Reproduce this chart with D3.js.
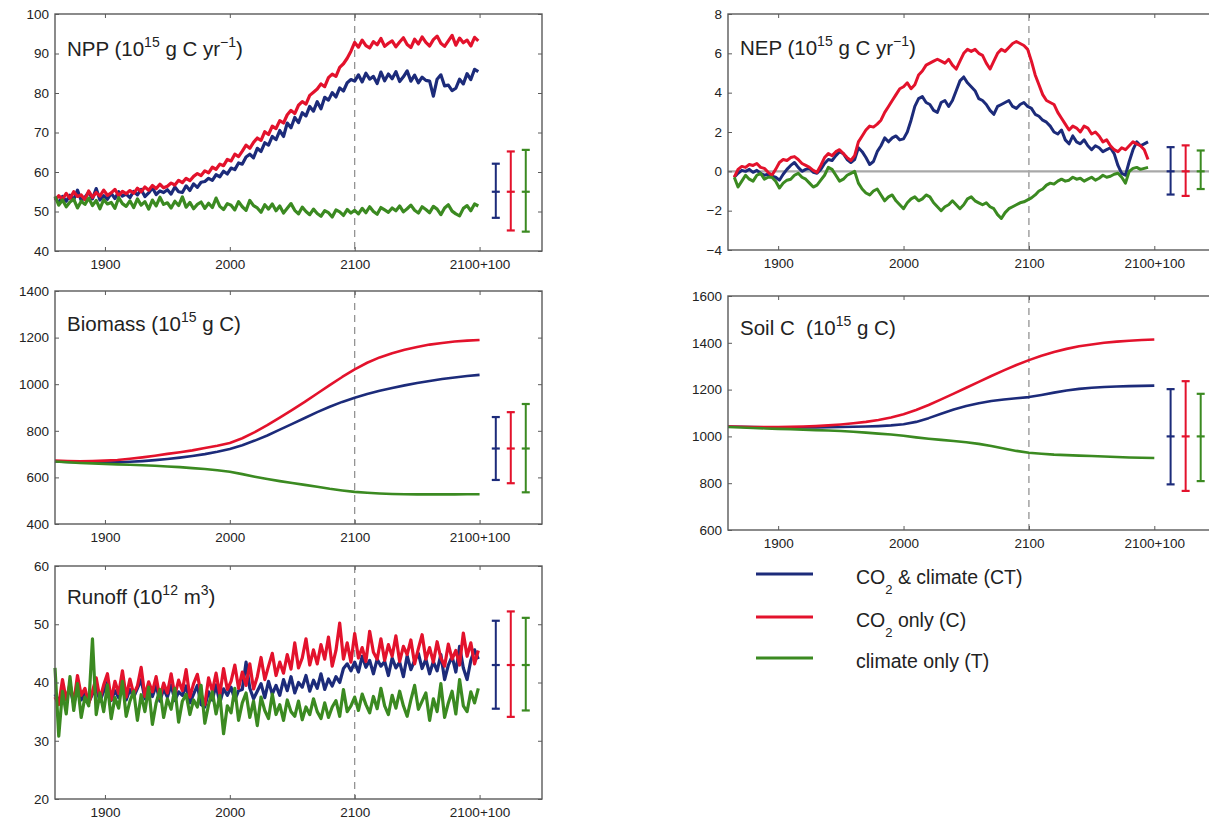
<!DOCTYPE html>
<html>
<head>
<meta charset="utf-8">
<script src="https://cdn.jsdelivr.net/npm/d3@7"></script>
<style>
  body { margin: 0; background: #fff; }
  svg { display: block; font-family: "Liberation Sans", Arial, Helvetica, sans-serif; }
</style>
</head>
<body>
<svg id="chart" width="1209" height="822"></svg>
<script>
// ---- shared categories ----
const seriesKeys = ["CT", "C", "T"];
const seriesColors = ["#1c2b7a", "#e3122c", "#3b8a21"];
const xTickYears = [1900, 2000, 2100, 2200];
const xTickLabels = ["1900", "2000", "2100", "2100+100"];
const errorYears = [2213, 2225, 2237];   // x positions of the variability bars

// ---- NPP (10^15 g C / yr), every 3 years 1860-2199 ----
const nppYears = d3.range(1860, 2200, 3);
const nppCT = [
  53.5, 52.2, 53.8, 52.6, 54.1, 53.0, 55.4, 52.8, 53.6, 54.9,
  53.2, 55.8, 52.9, 54.0, 53.1, 54.6, 53.3, 55.0, 53.9, 54.4,
  53.5, 55.1, 54.2, 55.6, 53.8, 54.7, 56.0, 54.3, 55.2, 54.8,
  55.5, 54.4, 56.2, 55.0, 54.8, 56.5, 55.3, 57.0, 56.1, 57.4,
  57.6, 58.4, 57.9, 59.3, 58.8, 60.2, 59.5, 61.0, 60.6, 62.3,
  62.0, 63.8, 64.5, 63.6, 66.0, 65.2, 67.4, 66.8, 69.0, 68.2,
  70.5, 69.0, 72.4, 71.2, 73.8, 72.5, 75.0, 74.2, 76.6, 75.4,
  77.8, 76.0, 78.9, 78.2, 80.1, 79.0, 81.3, 80.5, 82.6, 83.4,
  83.0, 84.6, 82.8, 85.0, 83.5, 84.2, 82.4, 85.3, 83.1, 84.8,
  83.6, 85.4, 82.9, 84.1, 85.6, 83.0, 84.5, 82.6, 84.0, 83.2,
  83.0, 79.2, 83.5, 84.6, 81.8, 82.0, 80.6, 81.2, 83.5, 82.3,
  84.9, 83.4, 86.0, 85.4
];
const nppC = [
  52.8, 54.0, 53.1, 54.6, 53.3, 55.0, 53.8, 54.2, 53.0, 55.2,
  53.6, 54.8, 53.9, 55.4, 54.1, 54.7, 55.6, 54.0, 55.1, 54.5,
  55.3, 54.6, 55.9, 55.0, 56.2, 55.4, 56.6, 55.8, 56.9, 56.0,
  56.4, 57.2, 56.7, 57.9, 57.3, 58.4, 57.8, 58.9, 59.6, 59.1,
  60.3, 59.8, 61.2, 60.7, 62.0, 61.6, 63.2, 62.8, 64.5, 63.9,
  65.3, 66.8, 66.0, 67.5, 68.6, 68.0, 70.2, 69.5, 71.6, 71.0,
  73.0, 72.4, 74.5, 75.6, 74.8, 76.9, 77.8, 77.2, 79.4, 80.2,
  81.0, 82.3, 81.6, 83.9, 84.8, 84.2, 86.5, 87.4, 88.8, 90.6,
  92.8, 91.6, 93.4, 92.0, 91.4, 93.0, 92.2, 93.8, 91.8, 92.6,
  93.2, 91.7, 92.9, 94.0, 92.3, 91.5, 93.6, 92.4, 94.2, 92.8,
  91.9, 93.5, 94.4, 92.6, 91.8, 93.2, 94.6, 92.1, 93.9, 92.7,
  93.4, 91.9, 94.1, 93.2
];
const nppT = [
  53.8, 51.6, 52.9, 51.2, 52.4, 53.1, 50.9, 52.6, 51.8, 53.4,
  51.5, 52.8, 50.7, 53.0, 51.9, 52.3, 50.8, 53.5, 52.0, 51.3,
  52.7, 51.0, 53.2, 51.6, 52.5, 50.6, 52.9, 51.4, 53.6, 51.8,
  52.2, 50.9, 52.6, 51.5, 53.7, 51.1, 52.3, 50.7, 51.8, 52.4,
  50.8, 52.1, 51.0, 53.4, 51.3, 50.5, 52.0, 51.6, 50.4, 52.5,
  51.2, 50.3, 52.8, 51.5, 50.9, 49.8, 51.7, 50.6, 51.9, 50.2,
  51.4, 49.6, 50.8, 52.0, 50.3, 49.4, 51.1, 50.0, 49.2, 50.6,
  49.5, 48.8, 50.2, 49.7, 48.6, 50.4, 49.9, 49.0, 50.5, 49.6,
  50.3, 49.4, 50.8, 49.7, 51.2, 50.0, 49.3, 51.0, 50.4, 49.8,
  50.9, 50.2, 51.4, 49.9, 50.7, 51.6, 50.3, 49.6, 51.2, 50.5,
  49.7, 51.3, 50.6, 49.2, 50.9, 51.7, 50.1, 49.4, 48.9, 50.8,
  51.5, 50.2, 51.9, 51.4
];
const nppErrLow = [48.4, 45.2, 44.9];
const nppErrHigh = [62.1, 65.2, 65.6];
const nppErrMid = 55;

// ---- NEP (10^15 g C / yr), every 3 years 1865-2195 ----
const nepYears = d3.range(1865, 2196, 3);
const nepCT = [
  -0.3, -0.1, 0.05, 0.0, 0.1, -0.05, 0.05, -0.1, -0.2, -0.15,
  -0.25, -0.3, -0.45, -0.15, 0.1, 0.3, 0.45, 0.2, 0.0, 0.1,
  0.15, -0.05, -0.1, 0.1, 0.4, 0.6, 0.55, 0.8, 1.0, 0.9,
  0.6, 0.45, 0.6, 1.2, 1.0, 0.7, 0.35, 0.5, 1.0, 1.3,
  1.7, 1.5, 1.7, 1.8, 1.6, 1.65, 2.0, 2.6, 3.3, 3.7,
  3.8, 3.5, 3.4, 3.1, 3.0, 3.5, 3.6, 3.3, 3.6, 4.1,
  4.6, 4.8, 4.5, 4.3, 4.1, 3.7, 3.6, 3.4, 3.1, 2.9,
  3.3, 3.4, 3.5, 3.6, 3.3, 3.2, 3.4, 3.5, 3.3, 3.2,
  2.9, 2.8, 2.6, 2.5, 2.3, 2.0, 1.9, 2.1, 1.6, 1.4,
  1.8, 1.5, 1.4, 1.6, 1.3, 1.1, 1.3, 1.2, 1.0, 1.1,
  1.2, 0.9, 0.3, -0.1, -0.2, 0.5, 1.1, 1.5, 1.3, 1.4, 1.5
];
const nepC = [
  -0.3, 0.1, 0.25, 0.2, 0.35, 0.3, 0.4, 0.2, 0.15, -0.05,
  -0.2, 0.1, 0.45, 0.6, 0.55, 0.7, 0.75, 0.6, 0.4, 0.3,
  0.2, 0.05, -0.05, 0.3, 0.7, 0.9, 0.8, 1.0, 1.1, 0.9,
  0.7, 0.55, 0.8, 1.5, 1.8, 2.1, 2.3, 2.25, 2.4, 2.6,
  3.0, 3.3, 3.6, 3.9, 4.2, 4.3, 4.5, 4.2, 4.4, 4.9,
  5.1, 5.4, 5.5, 5.6, 5.7, 5.6, 5.5, 5.7, 5.4, 5.2,
  5.6, 6.0, 6.2, 6.1, 6.2, 6.0, 5.9, 5.5, 5.2, 5.6,
  6.0, 6.2, 6.1, 6.3, 6.5, 6.6, 6.5, 6.4, 6.2, 5.6,
  4.9, 4.4, 3.9, 3.6, 3.5, 3.4, 3.0, 2.7, 2.4, 2.1,
  2.3, 2.2, 2.0, 2.3, 2.2, 1.9, 2.0, 1.8, 1.5, 1.6,
  1.3, 1.1, 1.0, 1.2, 1.1, 1.3, 1.5, 1.4, 1.3, 1.1, 0.6
];
const nepT = [
  -0.3, -0.8, -0.5, -0.2, -0.4, -0.5, -0.2, -0.1, -0.4, -0.3,
  -0.3, -0.5, -0.85, -0.6, -0.45, -0.4, -0.2, -0.1, -0.3, -0.4,
  -0.6, -0.8, -0.7, -0.45, -0.2, 0.2, 0.1, -0.2, -0.5, -0.4,
  -0.2, -0.1, 0.0, -0.6, -0.9, -1.1, -1.2, -1.0, -0.9, -1.2,
  -1.5, -1.3, -1.2, -1.5, -1.7, -1.9, -1.6, -1.4, -1.3, -1.5,
  -1.4, -1.2, -1.3, -1.6, -1.8, -2.0, -1.8, -1.7, -1.5, -1.7,
  -1.9, -1.7, -1.4, -1.3, -1.5, -1.6, -1.7, -1.6, -1.8, -1.9,
  -2.2, -2.4, -2.1, -1.9, -1.8, -1.7, -1.6, -1.55, -1.45, -1.35,
  -1.2, -1.0, -0.9, -0.7, -0.6, -0.65, -0.5, -0.4, -0.5, -0.45,
  -0.3, -0.4, -0.35, -0.5, -0.4, -0.3, -0.45, -0.35, -0.2, -0.3,
  -0.25, -0.15, -0.1, -0.3, -0.6, 0.0, 0.15, 0.2, 0.1, 0.15, 0.2
];
const nepErrLow = [-1.18, -1.25, -0.9];
const nepErrHigh = [1.23, 1.32, 1.06];
const nepErrMid = 0;

// ---- Biomass (10^15 g C), every 10 years 1860-2200 ----
const poolYears = d3.range(1860, 2201, 10);
const biomassCT = [
  668, 666, 665, 664, 664, 665, 667, 670, 674, 679,
  685, 692, 700, 710, 722, 738, 758, 780, 805, 830,
  855, 880, 903, 924, 942, 958, 972, 984, 995, 1005,
  1014, 1022, 1029, 1035, 1040
];
const biomassC = [
  672, 670, 669, 670, 672, 675, 680, 686, 693, 701,
  708, 716, 726, 736, 748, 768, 794, 824, 857, 890,
  924, 960, 996, 1031, 1064, 1092, 1115, 1133, 1148, 1160,
  1170, 1177, 1183, 1187, 1190
];
const biomassT = [
  668, 665, 662, 660, 658, 656, 654, 652, 650, 647,
  644, 640, 636, 631, 624, 614, 603, 593, 584, 576,
  568, 560, 551, 544, 538, 534, 531, 529, 528, 527,
  527, 527, 527, 528, 528
];
const biomassErrLow = [589, 575, 536];
const biomassErrHigh = [859, 880, 915];
const biomassErrMid = 724;

// ---- Soil C (10^15 g C), every 10 years 1860-2200 ----
const soilCT = [
  1042, 1041, 1040, 1039, 1038, 1038, 1038, 1038, 1039, 1040,
  1041, 1042, 1044, 1047, 1052, 1062, 1078, 1097, 1115, 1130,
  1142, 1151, 1158, 1163, 1168, 1177, 1187, 1196, 1203, 1208,
  1211, 1213, 1215, 1216, 1217
];
const soilC = [
  1042, 1041, 1040, 1040, 1040, 1041, 1042, 1044, 1047, 1051,
  1056, 1062, 1070, 1081, 1095, 1113, 1134, 1158, 1183, 1208,
  1233, 1258, 1282, 1305, 1326, 1345, 1361, 1374, 1385, 1393,
  1400, 1405, 1409, 1412, 1414
];
const soilT = [
  1040, 1038, 1036, 1034, 1032, 1031, 1029, 1027, 1025, 1023,
  1020, 1016, 1012, 1008, 1003, 996, 990, 985, 980, 975,
  968, 959, 948, 938, 930, 926, 922, 920, 918, 916,
  914, 912, 910, 909, 908
];
const soilErrLow = [795, 767, 809];
const soilErrHigh = [1202, 1236, 1182];
const soilErrMid = 1000;

// ---- Runoff (10^12 m^3), every 3 years 1860-2199 ----
const runoffYears = d3.range(1860, 2200, 3);
const runoffCT = [
  38.0, 36.8, 38.5, 37.2, 39.0, 36.4, 38.8, 37.0, 38.2, 36.6,
  38.0, 39.2, 36.8, 38.5, 40.0, 36.9, 38.6, 37.4, 39.8, 37.0,
  38.8, 37.5, 39.0, 40.5, 37.2, 38.4, 37.6, 39.5, 36.8, 38.9,
  37.5, 39.6, 36.9, 38.4, 37.8, 39.4, 36.5, 38.0, 39.5, 36.2,
  35.8, 38.4, 37.0, 39.6, 36.5, 38.9, 37.8, 39.2, 37.0, 38.6,
  38.8, 43.5, 39.0, 37.2, 38.5, 39.8, 37.4, 40.2, 38.0, 39.5,
  37.8, 40.5, 38.6, 41.0, 38.2, 40.0, 39.2, 41.2, 38.5, 40.4,
  39.0, 41.5, 38.8, 40.6, 39.4, 41.0, 40.0, 42.4, 43.2, 42.0,
  43.5, 41.8, 44.5, 42.6, 43.8, 41.5, 44.0, 42.8, 43.6, 41.2,
  44.2, 42.5, 43.5, 41.0, 44.6, 42.2, 43.8, 45.0, 42.4, 44.0,
  41.5, 43.6, 42.0, 44.8, 40.5, 43.0, 44.5, 41.8, 46.2, 42.5,
  40.5, 43.8, 45.6, 44.0
];
const runoffC = [
  37.5, 36.2, 40.5, 37.0, 39.8, 36.5, 41.2, 37.8, 39.0, 36.4,
  38.5, 40.8, 37.2, 39.6, 41.5, 37.0, 40.2, 38.1, 42.0, 37.5,
  40.6, 38.0, 39.4, 42.6, 37.6, 40.1, 38.4, 41.0, 37.3, 39.9,
  38.2, 41.5, 37.8, 40.4, 38.6, 42.2, 37.5, 39.8, 41.4, 38.0,
  36.2, 40.8, 38.5, 41.6, 37.9, 42.4, 38.8, 40.2, 43.0, 39.0,
  41.8, 39.5, 43.2, 38.9, 41.0, 44.3, 40.5, 42.8, 45.0, 41.2,
  43.5, 41.6, 44.8, 42.3, 46.8, 42.5, 44.2, 47.5, 43.0, 45.6,
  43.2, 46.5, 44.0, 47.8, 42.8, 45.5, 50.2, 44.0, 46.8, 43.5,
  48.4, 44.2, 46.0, 43.6, 48.8, 45.2, 44.0, 47.5, 43.8, 46.5,
  44.5, 48.0, 43.6, 46.2, 44.8, 47.3, 43.2, 45.8, 48.2, 44.0,
  46.0, 43.5, 47.0, 44.2, 42.8, 46.6, 44.0, 45.5, 43.0, 48.5,
  44.5, 46.8, 43.2, 45.5
];
const runoffT = [
  42.5, 30.8, 38.5, 34.6, 41.0, 35.2, 39.8, 34.0, 37.5, 36.0,
  47.5, 34.5, 38.2, 35.0, 39.6, 33.8, 37.4, 35.6, 40.2, 34.2,
  36.8, 38.5, 33.5, 37.9, 35.0, 39.2, 32.8, 36.5, 38.8, 34.0,
  37.2, 35.4, 39.0, 33.2, 36.8, 38.0, 34.5, 37.0, 35.8, 39.5,
  33.0, 36.2, 38.4, 34.6, 37.8, 31.2, 36.0, 34.8, 39.0, 33.5,
  36.5, 38.2, 34.0, 36.8, 32.6, 37.5, 35.2, 33.8, 38.0, 34.5,
  36.2, 33.5, 37.0, 35.0, 34.2, 36.8, 33.6, 35.8, 34.5, 37.2,
  35.0, 33.8, 36.5, 34.0, 35.8, 36.9, 34.2, 38.8, 35.0, 36.0,
  37.5, 35.2, 38.0, 36.2, 34.8, 37.6, 35.5, 39.0, 36.0, 34.5,
  37.8, 35.6, 38.5, 36.0, 34.2, 37.0, 39.5, 35.4, 36.8, 38.2,
  33.5, 37.2, 35.0, 39.8, 34.0, 36.5, 38.5, 34.6, 40.5, 36.0,
  35.0, 38.4, 36.5, 39.0
];
const runoffErrLow = [35.5, 34.1, 35.2];
const runoffErrHigh = [50.6, 52.2, 51.1];
const runoffErrMid = 43;

// ---- legend text ----
const legendLabels = [
  [["CO", "n"], ["2", "sub"], [" & climate (CT)", "n"]],
  [["CO", "n"], ["2", "sub"], [" only (C)", "n"]],
  [["climate only (T)", "n"]]
];

// ---------------------------------------------------------------
const svg = d3.select("#chart");
const FRAME = "#5a5a5a";
const TEXT = "#222";
const TITLE_SIZE = 20.5;
const TICK_SIZE = 13.5;

function richText(sel, parts, size) {
  let shift = 0;
  parts.forEach(([s, kind]) => {
    const target = kind === "sup" ? -0.42 * size : kind === "sub" ? 0.5 * size : 0;
    sel.append("tspan")
      .attr("dy", target - shift)
      .attr("font-size", kind === "n" ? size : Math.round(size * 0.66))
      .text(s);
    shift = target;
  });
}

function panel(opt) {
  const { left, top, right, bottom } = opt.box;
  const x = d3.scaleLinear().domain([1860, 2250]).range([left, right]);
  const y = d3.scaleLinear().domain(opt.yDomain).range([bottom, top]);
  const g = svg.append("g");

  // dashed marker at 2100
  g.append("line")
    .attr("x1", x(2100)).attr("x2", x(2100))
    .attr("y1", top).attr("y2", bottom)
    .attr("stroke", "#8a8a8a").attr("stroke-width", 1.2)
    .attr("stroke-dasharray", "7,5");

  if (opt.zeroLine) {
    g.append("line")
      .attr("x1", left).attr("x2", right)
      .attr("y1", y(0)).attr("y2", y(0))
      .attr("stroke", "#a8a8a8").attr("stroke-width", 2.2);
  }

  const line = d3.line().x(d => x(d[0])).y(d => y(d[1]));
  opt.series.forEach((vals, k) => {
    g.append("path")
      .datum(opt.years.map((yr, i) => [yr, vals[i]]))
      .attr("d", line)
      .attr("fill", "none")
      .attr("stroke", seriesColors[k])
      .attr("stroke-width", opt.lineWidth)
      .attr("stroke-linejoin", "round");
  });

  // variability bars
  errorYears.forEach((yr, k) => {
    const cx = x(yr), c = seriesColors[k];
    const eg = g.append("g").attr("stroke", c).attr("stroke-width", 2);
    eg.append("line").attr("x1", cx).attr("x2", cx)
      .attr("y1", y(opt.errLow[k])).attr("y2", y(opt.errHigh[k]));
    [opt.errLow[k], opt.errMid, opt.errHigh[k]].forEach(v => {
      eg.append("line").attr("x1", cx - 4).attr("x2", cx + 4)
        .attr("y1", y(v)).attr("y2", y(v)).attr("stroke-width", 2.2);
    });
  });

  // frame
  g.append("rect")
    .attr("x", left).attr("y", top)
    .attr("width", right - left).attr("height", bottom - top)
    .attr("fill", "none").attr("stroke", FRAME).attr("stroke-width", 1.4);

  const styleAxis = a => {
    a.select(".domain").remove();
    a.selectAll(".tick line").attr("stroke", FRAME).attr("stroke-width", 1);
    a.selectAll(".tick text").attr("fill", TEXT).attr("font-size", TICK_SIZE)
      .attr("font-family", "\"Liberation Sans\", Arial, sans-serif");
  };

  g.append("g").attr("transform", `translate(${left},0)`)
    .call(d3.axisLeft(y).tickValues(opt.yTicks).tickSizeInner(-4).tickSizeOuter(0)
      .tickPadding(6).tickFormat(v => v < 0 ? "\u2212" + Math.abs(v) : String(v)))
    .call(styleAxis);
  g.append("g").attr("transform", `translate(${right},0)`)
    .call(d3.axisRight(y).tickValues(opt.yTicks).tickSizeInner(-4).tickSizeOuter(0).tickFormat(""))
    .call(styleAxis);
  g.append("g").attr("transform", `translate(0,${bottom})`)
    .call(d3.axisBottom(x).tickValues(xTickYears).tickSizeInner(-4).tickSizeOuter(0)
      .tickPadding(8).tickFormat((d, i) => xTickLabels[i]))
    .call(styleAxis);
  g.append("g").attr("transform", `translate(0,${top})`)
    .call(d3.axisTop(x).tickValues(xTickYears).tickSizeInner(-4).tickSizeOuter(0).tickFormat(""))
    .call(styleAxis);

  const t = g.append("text")
    .attr("x", left + 12).attr("y", top + opt.titleDy)
    .attr("fill", TEXT).attr("font-size", TITLE_SIZE)
    .style("white-space", "pre");
  richText(t, opt.title, TITLE_SIZE);
}

const L = { left: 55, right: 542 };
const R = { left: 728, right: 1217 };

panel({
  box: { ...L, top: 14, bottom: 251 },
  yDomain: [40, 100], yTicks: d3.range(40, 101, 10),
  years: nppYears, series: [nppCT, nppC, nppT], lineWidth: 3.2,
  errLow: nppErrLow, errHigh: nppErrHigh, errMid: nppErrMid,
  title: [["NPP (10", "n"], ["15", "sup"], [" g C yr", "n"], ["\u22121", "sup"], [")", "n"]],
  titleDy: 42
});
panel({
  box: { ...L, top: 291, bottom: 524 },
  yDomain: [400, 1400], yTicks: d3.range(400, 1401, 200),
  years: poolYears, series: [biomassCT, biomassC, biomassT], lineWidth: 2.6,
  errLow: biomassErrLow, errHigh: biomassErrHigh, errMid: biomassErrMid,
  title: [["Biomass (10", "n"], ["15", "sup"], [" g C)", "n"]],
  titleDy: 40
});
panel({
  box: { ...L, top: 566, bottom: 799 },
  yDomain: [20, 60], yTicks: d3.range(20, 61, 10),
  years: runoffYears, series: [runoffCT, runoffC, runoffT], lineWidth: 3.2,
  errLow: runoffErrLow, errHigh: runoffErrHigh, errMid: runoffErrMid,
  title: [["Runoff (10", "n"], ["12", "sup"], [" m", "n"], ["3", "sup"], [")", "n"]],
  titleDy: 38
});
panel({
  box: { ...R, top: 14, bottom: 250 },
  yDomain: [-4, 8], yTicks: d3.range(-4, 9, 2),
  years: nepYears, series: [nepCT, nepC, nepT], lineWidth: 3,
  errLow: nepErrLow, errHigh: nepErrHigh, errMid: nepErrMid, zeroLine: true,
  title: [["NEP (10", "n"], ["15", "sup"], [" g C yr", "n"], ["\u22121", "sup"], [")", "n"]],
  titleDy: 41
});
panel({
  box: { ...R, top: 296, bottom: 530 },
  yDomain: [600, 1600], yTicks: d3.range(600, 1601, 200),
  years: poolYears, series: [soilCT, soilC, soilT], lineWidth: 2.6,
  errLow: soilErrLow, errHigh: soilErrHigh, errMid: soilErrMid,
  title: [["Soil C  (10", "n"], ["15", "sup"], [" g C)", "n"]],
  titleDy: 39
});

// legend
const legend = svg.append("g");
const legendRows = [574, 617, 658];
legendLabels.forEach((parts, k) => {
  legend.append("line")
    .attr("x1", 756).attr("x2", 813)
    .attr("y1", legendRows[k]).attr("y2", legendRows[k])
    .attr("stroke", seriesColors[k]).attr("stroke-width", 3);
  const t = legend.append("text")
    .attr("x", 856).attr("y", legendRows[k] + 10)
    .attr("fill", TEXT).attr("font-size", 19.5);
  richText(t, parts, 19.5);
});
</script>
</body>
</html>
